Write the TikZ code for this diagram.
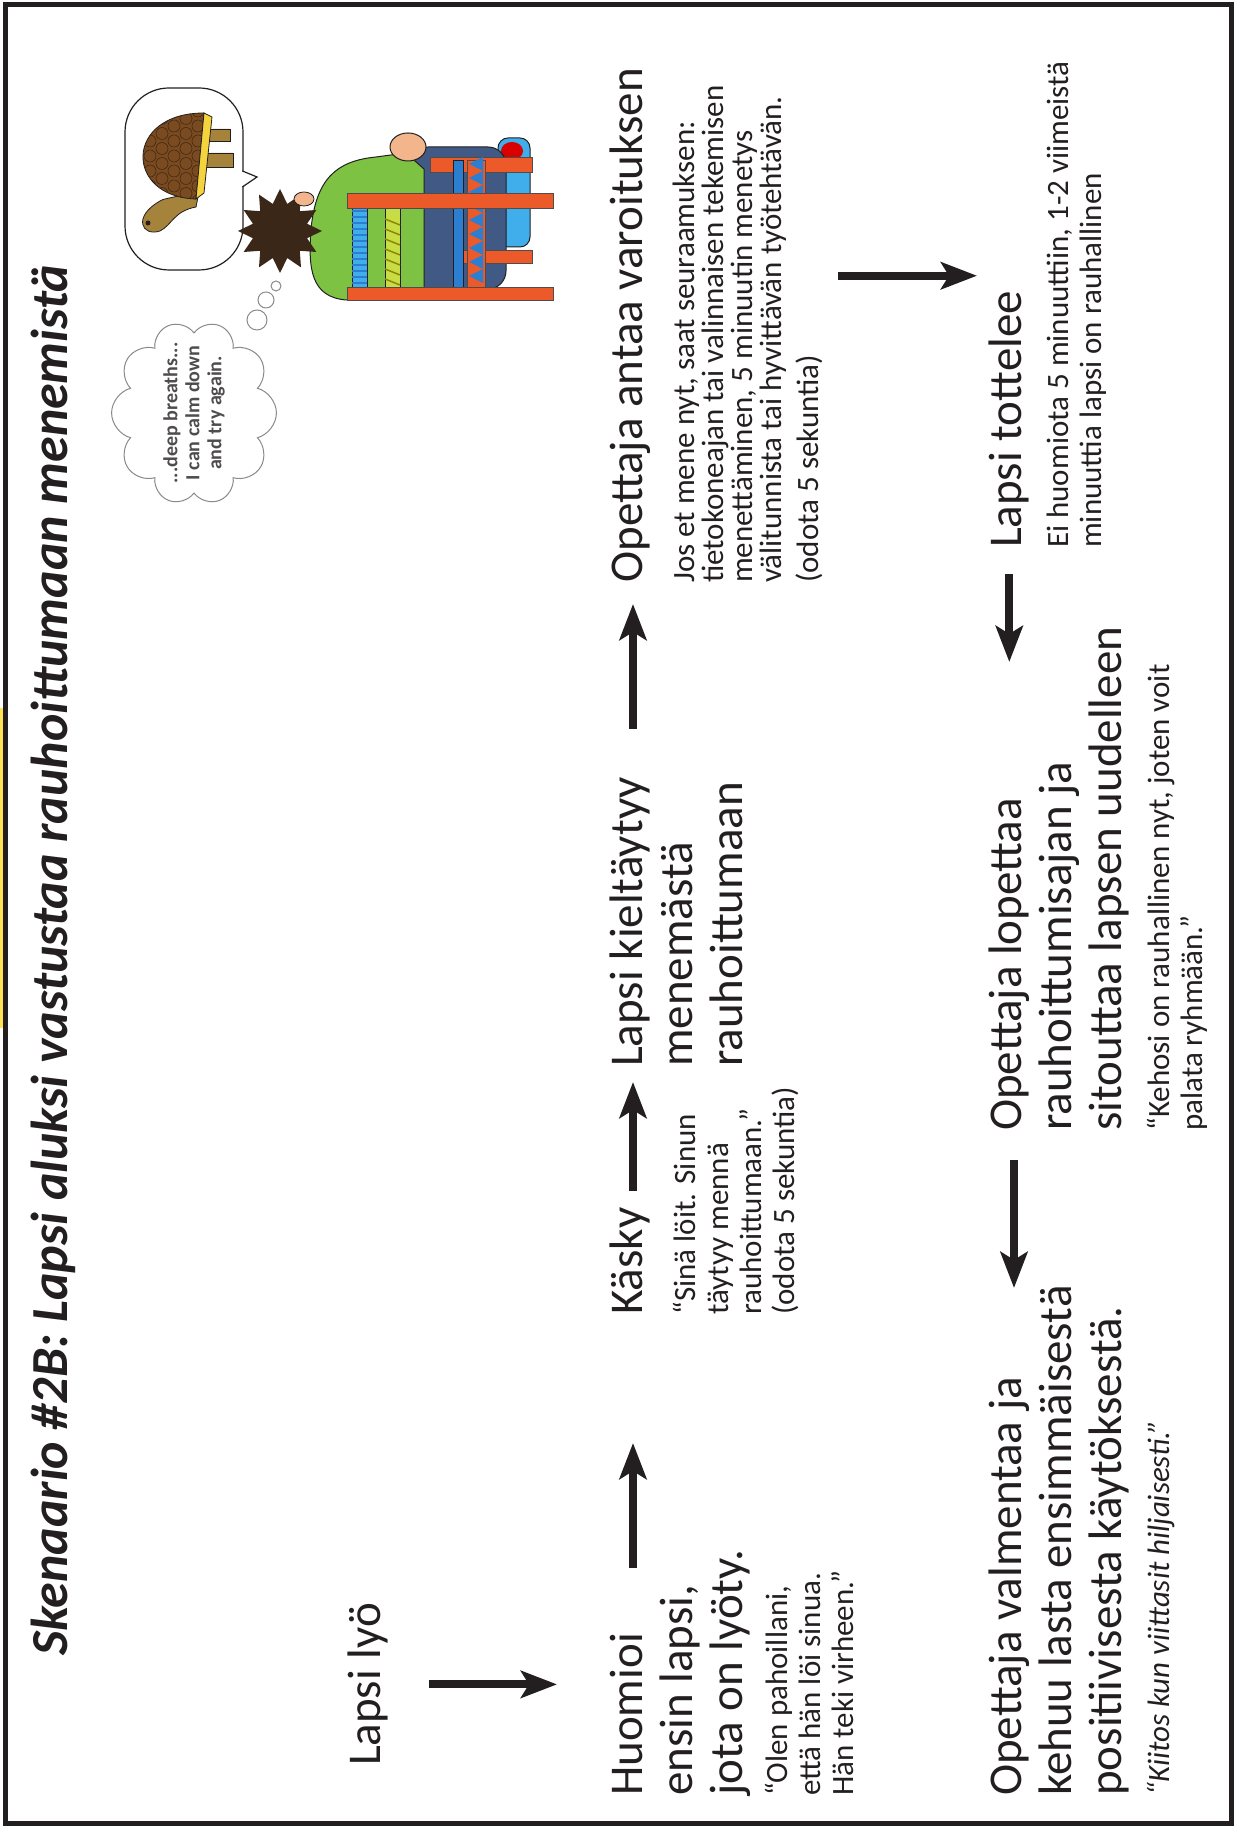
\documentclass[tikz,border=0pt]{standalone}
\usepackage{fontspec}
\setmainfont{Carlito}
\usetikzlibrary{arrows.meta,positioning,shapes.symbols}

\definecolor{ink}{HTML}{231F20}
\definecolor{tabyellow}{HTML}{FFE253}
\definecolor{chairorange}{HTML}{EC5A2A}
\definecolor{shirtgreen}{HTML}{7DC243}
\definecolor{jeansblue}{HTML}{415A85}
\definecolor{hairbrown}{HTML}{3B2717}
\definecolor{skin}{HTML}{F3B58C}
\definecolor{shellbrown}{HTML}{7A4B20}
\definecolor{turtleolive}{HTML}{A5833A}
\definecolor{bellyyellow}{HTML}{F4D33C}
\definecolor{railblue}{HTML}{2C7FD0}
\definecolor{railcyan}{HTML}{3FAEEA}
\definecolor{raillime}{HTML}{C8DC45}
\definecolor{cloudgrey}{HTML}{8A8A8A}

\begin{document}
\begin{tikzpicture}[x=1pt, y=1pt, color=ink,
  head/.style={anchor=north west, inner sep=0pt, align=left, font=\fontsize{47}{50}\selectfont},
  note/.style={inner sep=0pt, align=left, font=\fontsize{31}{33}\selectfont},
  flow/.style={-{Stealth[length=36pt, width=27pt, inset=8pt]}, line width=8pt},
  bar/.style={fill=chairorange, draw=ink!80, line width=0.8pt}]
\useasboundingbox (0,0) rectangle (1236,1829);
\begin{scope}[shift={(1236,0)}, rotate=90, transform shape]
% page frame
\fill[tabyellow] (801,1231) rectangle (1121,1236);
\draw[line width=5pt] (5,5) rectangle (1824,1231);
\node[anchor=base west, inner sep=0pt, font=\fontsize{52}{52}\selectfont\bfseries\itshape] (title) at (173,1169) {Skenaario \#2B: Lapsi aluksi vastustaa rauhoittumaan menemistä};

% steps
\node[head] (hit) at (63,888) {Lapsi lyö};
\node[head] (huomioi) at (33,626) {Huomioi\\ ensin lapsi,\\ jota on lyöty.};
\node[note, below right=14pt and 0pt of huomioi.south west] (huomioinote) {“Olen pahoillani,\\ että hän löi sinua.\\ Hän teki virheen.”};
\node[head] (kasky) at (514,626) {Käsky};
\node[note, below right=22pt and 0pt of kasky.south west] (kaskynote) {“Sinä löit. Sinun\\ täytyy mennä\\ rauhoittumaan.”\\ (odota 5 sekuntia)};
\node[head] (refuse) at (762,626) {Lapsi kieltäytyy\\ menemästä\\ rauhoittumaan};
\node[head] (warn) at (1246,626) {Opettaja antaa varoituksen};
\node[note, font=\fontsize{31}{29}\selectfont, below right=22pt and 0pt of warn.south west] (warnnote) {Jos et mene nyt, saat seuraamuksen:\\ tietokoneajan tai valinnaisen tekemisen\\ menettäminen, 5 minuutin menetys\\ välitunnista tai hyvittävän työtehtävän.\\[8pt] (odota 5 sekuntia)};
\node[head] (obey) at (1281,247) {Lapsi tottelee};
\node[note, below right=17pt and 0pt of obey.south west] (obeynote) {Ei huomiota 5 minuuttiin, 1-2 viimeistä\\ minuuttia lapsi on rauhallinen};
\node[head] (stop) at (698,247) {Opettaja lopettaa\\ rauhoittumisajan ja\\ sitouttaa lapsen uudelleen};
\node[note, below right=17pt and 0pt of stop.south west] (stopnote) {“Kehosi on rauhallinen nyt, joten voit\\ palata ryhmään.”};
\node[head] (praise) at (33,247) {Opettaja valmentaa ja\\ kehuu lasta ensimmäisestä\\ positiivisesta käytöksestä.};
\node[note, below right=17pt and 0pt of praise.south west] (praisenote) {\itshape “Kiitos kun viittasit hiljaisesti.”};

\draw[flow, shorten <=40pt, shorten >=53pt] (hit.south) -- (hit.south |- huomioi.north);
\draw[flow, shorten <=228pt, shorten >=128pt] ([yshift=-23pt]huomioi.north west) -- ([yshift=-23pt]kasky.north west);
\draw[flow, shorten <=124pt, shorten >=15pt] ([yshift=-23pt]kasky.north west) -- ([yshift=-23pt]refuse.north west);
\draw[flow, shorten <=338pt, shorten >=21pt] ([yshift=-23pt]refuse.north west) -- ([yshift=-23pt]warn.north west);
\draw[flow, shorten <=15pt, shorten >=12pt] ([xshift=15pt]obey.north east |- warnnote.south) -- ([xshift=15pt]obey.north east);
\draw[flow, shorten <=26pt, shorten >=469pt] (obey.west) -- (obey.west -| stop.west);
\draw[flow, shorten <=29pt, shorten >=508pt] ([yshift=-25pt]stop.north west) -- ([yshift=-25pt]praise.north west);

% speech bubble with the turtle
\draw[fill=white, line width=1.2pt, rounded corners=44pt] (1559,993) rectangle (1741,1111);
\fill[white] (1642,995) -- (1652,979) -- (1658,995) -- cycle;
\draw[line width=1.2pt] (1642,993.6) -- (1652,979) -- (1658,993.6);
\filldraw[fill=turtleolive, line width=0.8pt] (1662,1003) rectangle (1676,1034) (1688,1006) rectangle (1700,1032);
\filldraw[fill=turtleolive, line width=0.8pt] (1642,1036) .. controls (1630,1058) and (1632,1070) .. (1628,1076)
  .. controls (1612,1104) and (1592,1094) .. (1598,1076) .. controls (1604,1064) and (1618,1062) .. (1622,1040) -- cycle;
\fill (1606,1088) circle (2.5);
\filldraw[fill=shellbrown, line width=0.8pt] (1630,1040) .. controls (1632,1112) and (1716,1112) .. (1716,1032) -- cycle;
\begin{scope}
\clip (1630,1040) .. controls (1632,1112) and (1716,1112) .. (1716,1032) -- cycle;
\foreach \i in {0,...,6} \foreach \j in {0,...,5}
  \draw[shellbrown!55!black, line width=0.6pt] ({1628+\i*15+mod(\j,2)*7.5},{1038+\j*12}) circle (6);
\end{scope}
\filldraw[fill=bellyyellow, line width=0.8pt] (1630,1040) -- (1716,1032) -- (1712,1024) -- (1636,1032) -- cycle;

% thought cloud
\node[cloud, cloud puffs=10, aspect=1.2, draw=cloudgrey, fill=white, line width=1pt, minimum width=170pt, minimum height=135pt, inner sep=-14pt, align=center, text=ink!80, font=\fontsize{20}{22}\selectfont\bfseries] (thought) at (1416,1042) {...deep breaths...\\ I can calm down\\ and try again.};
\foreach \cx/\cy/\r in {1509/979/10, 1529/970/8, 1543/960/5}
  \draw[cloudgrey, fill=white, line width=1pt] (\cx,\cy) circle (\r);

% child on the chair
\filldraw[fill=railcyan, line width=1pt, rounded corners=10pt] (1582,706) rectangle (1691,738);
\fill[red!85!black] (1678,724) ellipse (9 and 11);
\filldraw[fill=jeansblue, line width=1pt, rounded corners=18pt] (1540,730) rectangle (1682,826);
\filldraw[fill=shirtgreen, line width=1pt] (1529,812) -- (1529,890) .. controls (1532,925) and (1560,928) .. (1600,925)
  .. controls (1650,920) and (1668,900) .. (1672,860) -- (1676,830) -- (1660,812) -- cycle;
\filldraw[fill=skin, line width=1pt] (1682,828) ellipse (14 and 18);
\fill[hairbrown] (1598,956) +(0:42) \foreach \a in {15,30,...,345} { -- +(\a:{42-14*mod(\a/15,2)}) } -- cycle;
\filldraw[fill=skin, line width=0.8pt] (1630,932) ellipse (7 and 10);
\filldraw[bar] (1657,704) rectangle (1672,806);
\filldraw[bar] (1566,704) rectangle (1579,773);
\filldraw[fill=railblue, line width=0.8pt] (1542,773) rectangle (1669,783);
\filldraw[bar] (1542,751) rectangle (1669,769);
\foreach \x in {1546,1560,...,1660}
  \fill[railblue] (\x,753) -- (\x+7,767) -- (\x+14,753) -- cycle;
\filldraw[fill=railcyan, line width=0.8pt] (1542,869) rectangle (1621,884);
\foreach \x in {1546,1552,...,1618}
  \draw[railblue, line width=1.5pt] (\x,869) -- (\x,884);
\filldraw[fill=raillime, line width=0.8pt] (1539,836) rectangle (1621,851);
\foreach \x in {1544,1554,...,1612}
  \draw[olive, line width=1.5pt] (\x,836) -- (\x+6,851);
\filldraw[bar] (1621,683) rectangle (1636,889);
\filldraw[bar] (1529,683) rectangle (1542,889);
\end{scope}
\end{tikzpicture}
\end{document}
